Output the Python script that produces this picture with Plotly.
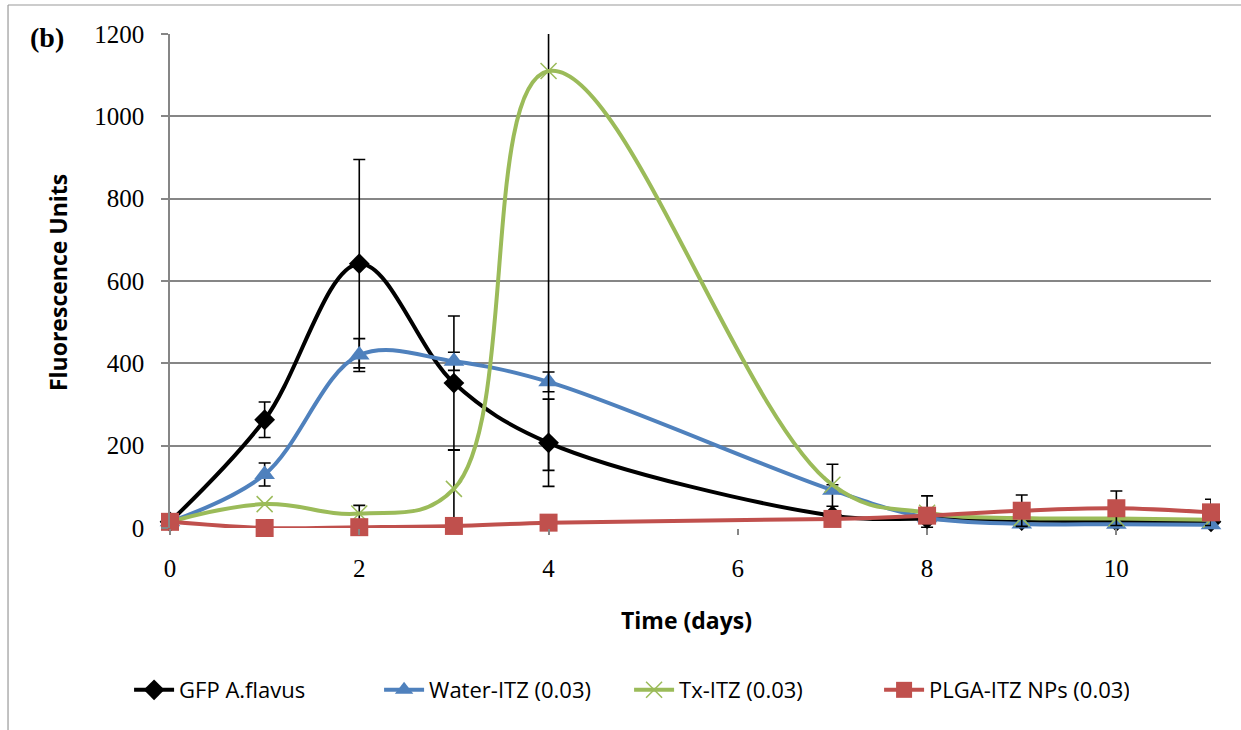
import plotly.graph_objects as go

days = [0, 1, 2, 3, 4, 7, 8, 9, 10, 11]

gfp = [15, 263, 642, 352, 207, 30, 22, 18, 16, 15]
gfp_err = [0, 43, 253, 163, 106, 23, 20, 0, 0, 0]

water = [15, 130, 420, 405, 355, 92, 25, 10, 9, 8]
water_err = [0, 28, 40, 22, 24, 63, 0, 0, 0, 0]

tx = [15, 58, 35, 95, 1110, 105, 37, 24, 23, 20]
tx_err = [0, 0, 20, 95, 970, 0, 0, 0, 0, 0]

plga = [15, 0, 2, 5, 13, 22, 30, 42, 48, 38]
plga_err = [0, 0, 0, 0, 0, 5, 48, 38, 42, 32]

names = ["GFP A.flavus", "Water-ITZ (0.03)", "Tx-ITZ (0.03)", "PLGA-ITZ NPs (0.03)"]
x_ticks = [0, 2, 4, 6, 8, 10]
y_ticks = [0, 200, 400, 600, 800, 1000, 1200]

fig = go.Figure()

def err(vals):
    return dict(type="data", array=vals, visible=True, color="black", thickness=1.6, width=6)

fig.add_trace(go.Scatter(x=days, y=gfp, name=names[0], mode="lines+markers",
                         line=dict(color="black", width=4, shape="spline", smoothing=1),
                         marker=dict(symbol="diamond", size=16, color="black"),
                         error_y=err(gfp_err), cliponaxis=False))
fig.add_trace(go.Scatter(x=days, y=water, name=names[1], mode="lines+markers",
                         line=dict(color="#4F81BD", width=4, shape="spline", smoothing=1),
                         marker=dict(symbol="triangle-up", size=18, color="#4F81BD"),
                         error_y=err(water_err), cliponaxis=False))
fig.add_trace(go.Scatter(x=days, y=tx, name=names[2], mode="lines+markers",
                         line=dict(color="#9BBB59", width=4, shape="spline", smoothing=1.15),
                         marker=dict(symbol="x-thin-open", size=16, color="#9BBB59",
                                     line=dict(color="#9BBB59", width=1.5)),
                         error_y=err(tx_err), cliponaxis=True))
fig.add_trace(go.Scatter(x=days, y=plga, name=names[3], mode="lines+markers",
                         line=dict(color="#C0504D", width=4, shape="spline", smoothing=1),
                         marker=dict(symbol="square", size=18, color="#C0504D"),
                         error_y=err(plga_err), cliponaxis=False))

serif = "Liberation Serif"
sans = "Open Sans"

fig.update_layout(
    width=1241, height=730,
    margin=dict(l=170, r=30, t=34, b=202),
    paper_bgcolor="white", plot_bgcolor="white",
    showlegend=True,
    legend=dict(orientation="h", x=0.441, y=-0.328, xanchor="center", yanchor="middle",
                font=dict(family=sans, size=22, color="black"), itemwidth=40,
                entrywidth=195, entrywidthmode="pixels", tracegroupgap=0),
    xaxis=dict(range=[0, 11], tickvals=x_ticks, ticktext=[str(v) for v in x_ticks],
               showgrid=False, zeroline=False, showline=False,
               ticks="outside", ticklen=6, tickcolor="#868686", tickwidth=1.5,
               tickfont=dict(family=serif, size=25, color="black"),
               ticklabelstandoff=12),
    yaxis=dict(range=[0, 1200], tickvals=y_ticks, ticktext=[str(v) for v in y_ticks],
               showgrid=True, gridcolor="#868686", gridwidth=1.5, zeroline=False,
               showline=True, linecolor="#868686", linewidth=1.5,
               ticks="outside", ticklen=7, tickcolor="#868686", tickwidth=1.5,
               tickfont=dict(family=serif, size=25, color="black"),
               ticklabelstandoff=12),
    annotations=[
        dict(text="<b>Time (days)</b>", x=0.4966, y=-0.186, xref="paper", yref="paper",
             showarrow=False, font=dict(family=sans, size=23, color="black"),
             xanchor="center", yanchor="middle"),
        dict(text="<b>Fluorescence Units</b>", x=-0.1075, y=0.496, xref="paper", yref="paper",
             showarrow=False, textangle=-90, font=dict(family=sans, size=23, color="black"),
             xanchor="center", yanchor="middle"),
        dict(text="<b>(b)</b>", x=-0.118, y=0.992, xref="paper", yref="paper",
             showarrow=False, font=dict(family=serif, size=28, color="black"),
             xanchor="center", yanchor="middle"),
    ],
    shapes=[
        dict(type="line", xref="paper", yref="paper", x0=-0.1556, x1=1.04, y0=1.0587, y1=1.0587,
             line=dict(color="#999999", width=1.2)),
        dict(type="line", xref="paper", yref="paper", x0=-0.1556, x1=-0.1556, y0=1.0587, y1=-0.43,
             line=dict(color="#999999", width=1.2)),
    ],
)

fig.write_html("out.html")
